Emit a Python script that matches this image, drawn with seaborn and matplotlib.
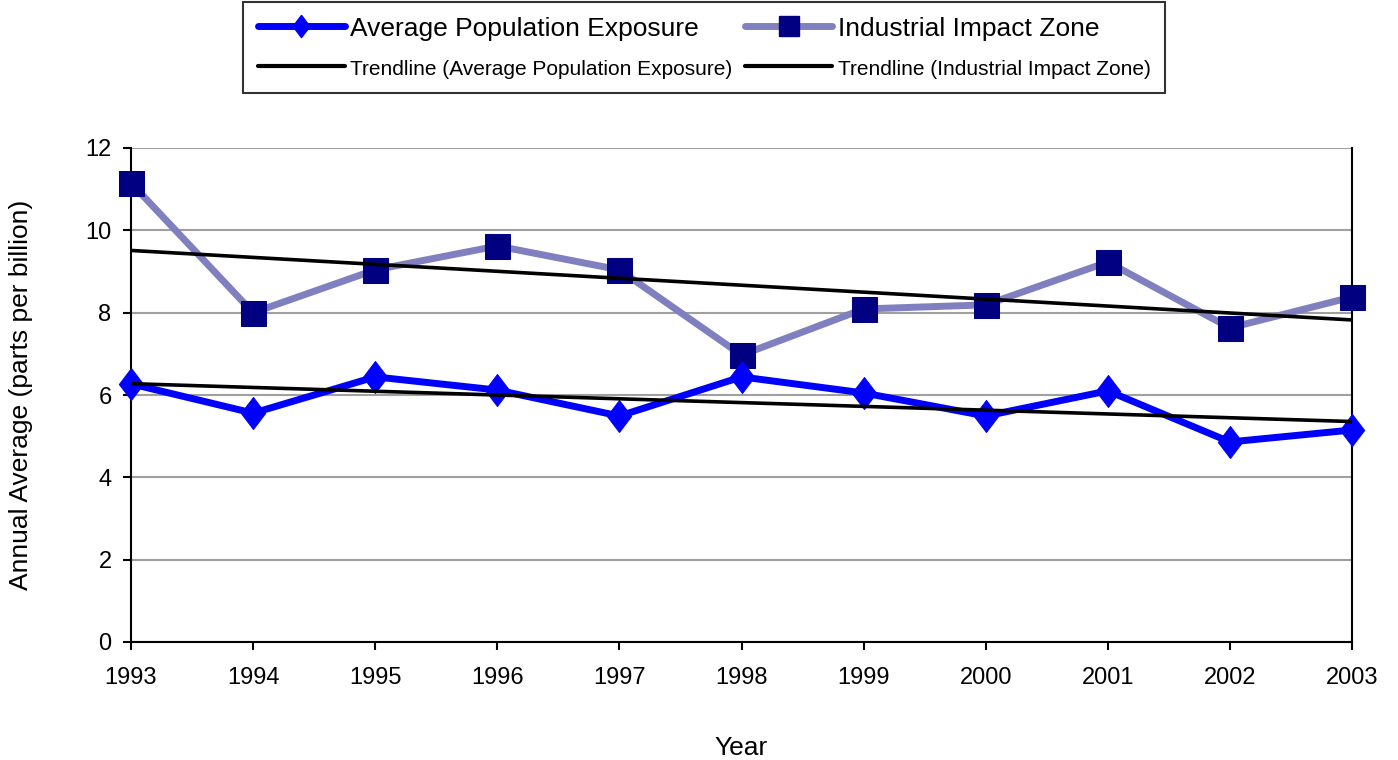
import pandas as pd
import seaborn as sns
import numpy as np
import matplotlib.pyplot as plt
from matplotlib.lines import Line2D

# data
years = [1993, 1994, 1995, 1996, 1997, 1998, 1999, 2000, 2001, 2002, 2003]
avg_pop = [6.27, 5.56, 6.44, 6.12, 5.49, 6.44, 6.05, 5.49, 6.10, 4.86, 5.15]
industrial = [11.15, 8.00, 9.04, 9.62, 9.04, 6.97, 8.09, 8.19, 9.23, 7.63, 8.38]

df = pd.DataFrame({'Year': years, 'avg': avg_pop, 'ind': industrial})

sns.set_style("white")
plt.rcParams['font.family'] = ['Liberation Sans', 'DejaVu Sans']
plt.rcParams['text.color'] = 'black'
plt.rcParams['axes.labelcolor'] = 'black'

fig = plt.figure(figsize=(13.98, 7.6), dpi=100)
ax = fig.add_axes([131/1398, 1-642/760, (1352-131)/1398, (642-148)/760])

diamond = [(0, 1), (0.76, 0), (0, -1), (-0.76, 0), (0, 1)]

sns.lineplot(data=df, x='Year', y='ind', ax=ax, color='#8080C0', lw=5,
             marker='s', markersize=18, markerfacecolor='#000080',
             markeredgecolor='#000080', clip_on=False, zorder=3)
sns.lineplot(data=df, x='Year', y='avg', ax=ax, color='#0000FF', lw=5,
             marker=diamond, markersize=23, markerfacecolor='#0000FF',
             markeredgecolor='#0000FF', clip_on=False, zorder=3)

# trendlines
sns.regplot(data=df, x='Year', y='ind', ax=ax, scatter=False, ci=None,
            color='black', line_kws={'lw': 2.6, 'zorder': 4})
sns.regplot(data=df, x='Year', y='avg', ax=ax, scatter=False, ci=None,
            color='black', line_kws={'lw': 2.6, 'zorder': 4})

ax.set_xlim(1993, 2003)
ax.set_ylim(0, 12)
ax.set_xticks(years)
ax.set_yticks(range(0, 13, 2))
ax.yaxis.grid(True, color='#A0A0A0', lw=1.5)
ax.set_axisbelow(True)
ax.tick_params(axis='both', direction='out', length=6, width=1.5, labelsize=17,
               bottom=True, left=True, colors='black')
ax.tick_params(axis='x', pad=12)
ax.tick_params(axis='y', pad=8)
for s in ['left', 'bottom', 'right']:
    ax.spines[s].set_color('black')
    ax.spines[s].set_linewidth(1.5)
ax.spines['top'].set_visible(False)

ax.set_xlabel('Year', fontsize=19, labelpad=34)
ax.set_ylabel('Annual Average (parts per billion)', fontsize=19, labelpad=38)

handles = [
    Line2D([], [], color='#0000FF', lw=5, marker=diamond, markersize=16,
           markerfacecolor='#0000FF', markeredgecolor='#0000FF'),
    Line2D([], [], color='black', lw=3),
    Line2D([], [], color='#8080C0', lw=5, marker='s', markersize=14,
           markerfacecolor='#000080', markeredgecolor='#000080'),
    Line2D([], [], color='black', lw=3),
]
labels = ['Average Population Exposure', 'Trendline (Average Population Exposure)',
          'Industrial Impact Zone', 'Trendline (Industrial Impact Zone)']
leg = fig.legend(handles, labels, loc='upper left', ncol=2,
                 bbox_to_anchor=(243/1398, 1-2/760), borderaxespad=0,
                 fontsize=19, frameon=True, fancybox=False, edgecolor='black',
                 handlelength=3.3, handletextpad=0.2, columnspacing=0.5,
                 labelspacing=0.6, borderpad=0.55)
leg.get_frame().set_linewidth(1.5)
for i in (1, 3):
    leg.get_texts()[i].set_fontsize(15)

fig.savefig('out.png', dpi=100)
